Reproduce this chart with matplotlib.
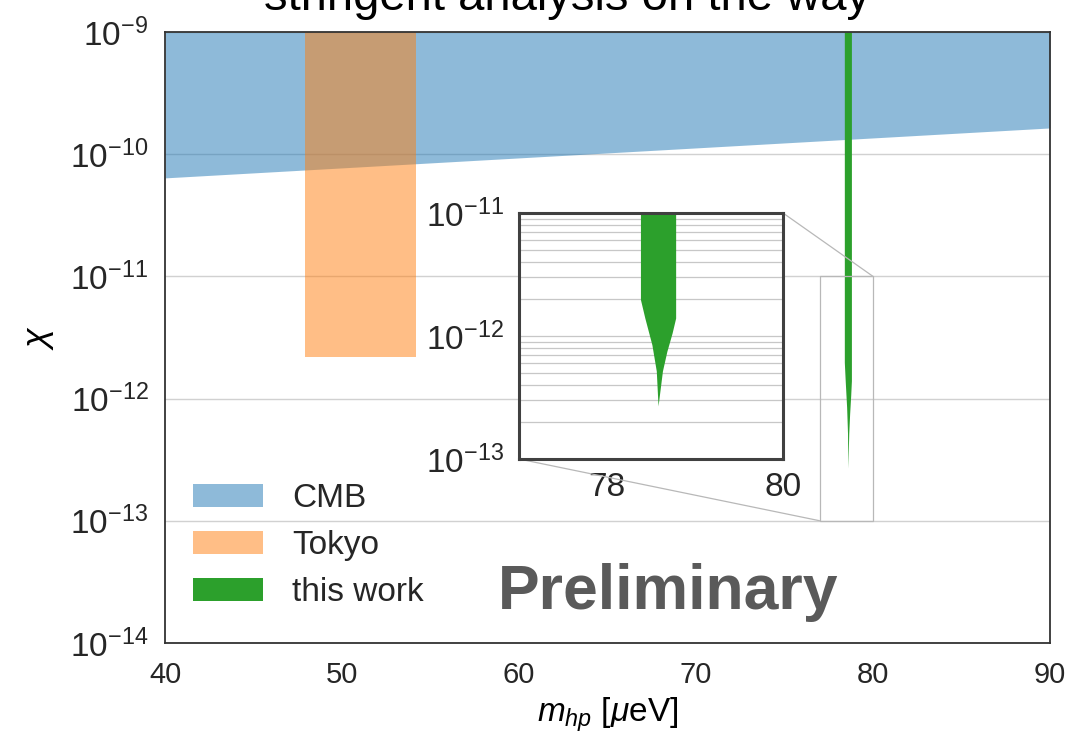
import numpy as np
import matplotlib
matplotlib.use('Agg')
import matplotlib.pyplot as plt
from matplotlib.patches import Patch
from matplotlib.ticker import NullFormatter
from mpl_toolkits.axes_grid1.inset_locator import mark_inset

plt.rcParams['font.family'] = ['Liberation Sans', 'DejaVu Sans']
plt.rcParams['mathtext.fontset'] = 'custom'
plt.rcParams['mathtext.rm'] = 'Liberation Sans'
plt.rcParams['mathtext.it'] = 'Liberation Sans:italic'
plt.rcParams['text.color'] = '.15'

# data (mass in ueV, mixing chi)
chi_top = 1e-9
cmb_mass = [40, 90]
cmb_chi = [6.4e-11, 1.64e-10]
tokyo_mass = [47.9, 54.2]
tokyo_chi = [2.2e-12, 2.2e-12]
this_mass = [78.38, 78.43, 78.51, 78.56, 78.58, 78.63, 78.68, 78.74, 78.78]
this_chi = [1.98e-12, 1.40e-12, 8.5e-13, 5.2e-13, 2.7e-13, 5.2e-13, 7.5e-13, 1.06e-12, 1.40e-12]
labels = ['CMB', 'Tokyo', 'this work']
xticks = [40, 50, 60, 70, 80, 90]
inset_xticks = [78, 80]

c_cmb = '#1f77b4'
c_tokyo = '#ff7f0e'
c_this = '#2ca02c'

W, H = 1088, 736
fig = plt.figure(figsize=(W/100, H/100), dpi=100)
ax = fig.add_axes([165/W, 1-643/H, 885/W, 611/H])

ax.fill_between(cmb_mass, cmb_chi, chi_top, color=c_cmb, alpha=0.5, lw=0)
ax.fill_between(tokyo_mass, tokyo_chi, chi_top, color=c_tokyo, alpha=0.5, lw=0)
ax.fill_between(this_mass, this_chi, chi_top, color=c_this, lw=0)

ax.set_yscale('log')
ax.set_xlim(40, 90)
ax.set_ylim(1e-14, 1e-9)
ax.set_xticks(xticks)
ax.yaxis.set_minor_formatter(NullFormatter())
ax.grid(axis='y', which='major', color='.82', lw=1.0)
ax.set_axisbelow(True)
ax.tick_params(which='both', length=0, labelcolor='.15')
ax.tick_params(axis='x', pad=13, labelsize=21)
ax.tick_params(axis='y', pad=12, labelsize=24)
for s in ax.spines.values():
    s.set_color('.2')
    s.set_linewidth(1.3)

ax.set_xlabel(r'$m_{hp}$ [$\mu$eV]', fontsize=24, labelpad=5)
ax.set_ylabel(r'$\chi$', fontsize=26, labelpad=10)

handles = [Patch(facecolor=c_cmb, alpha=0.5, lw=0),
           Patch(facecolor=c_tokyo, alpha=0.5, lw=0),
           Patch(facecolor=c_this, lw=0)]
ax.legend(handles, labels, loc='lower left', frameon=False, fontsize=24,
          handlelength=2.1, handleheight=0.72, handletextpad=0.87,
          labelspacing=0.48, bbox_to_anchor=(-0.002, 0.008))

ax.text(0.568, 0.083, 'Preliminary', transform=ax.transAxes, ha='center',
        va='center', fontsize=45, fontweight='bold', color='#5a5a5a')

# zoomed inset
axins = fig.add_axes([519/W, 1-459/H, 264/W, 246/H])
axins.fill_between(this_mass, this_chi, chi_top, color=c_this, lw=0)
axins.set_yscale('log')
axins.set_xlim(77, 80)
axins.set_ylim(1e-13, 1e-11)
axins.set_xticks(inset_xticks)
axins.yaxis.set_minor_formatter(NullFormatter())
axins.grid(axis='y', which='both', color='.78', lw=0.9)
axins.set_axisbelow(True)
axins.tick_params(which='both', length=0, labelsize=24, labelcolor='.15')
axins.tick_params(axis='y', pad=11)
axins.tick_params(axis='x', pad=9)
for s in axins.spines.values():
    s.set_color('.25')
    s.set_linewidth(2.2)

mark_inset(ax, axins, loc1=1, loc2=3, fc='none', ec='.72', lw=0.9)

# slide heading, cut by the top edge as in the source image
fig.text(0.521, 1-10/H, 'stringent analysis on the way', ha='center',
         va='baseline', fontsize=34, color='black')

fig.savefig('out.png', dpi=100)
